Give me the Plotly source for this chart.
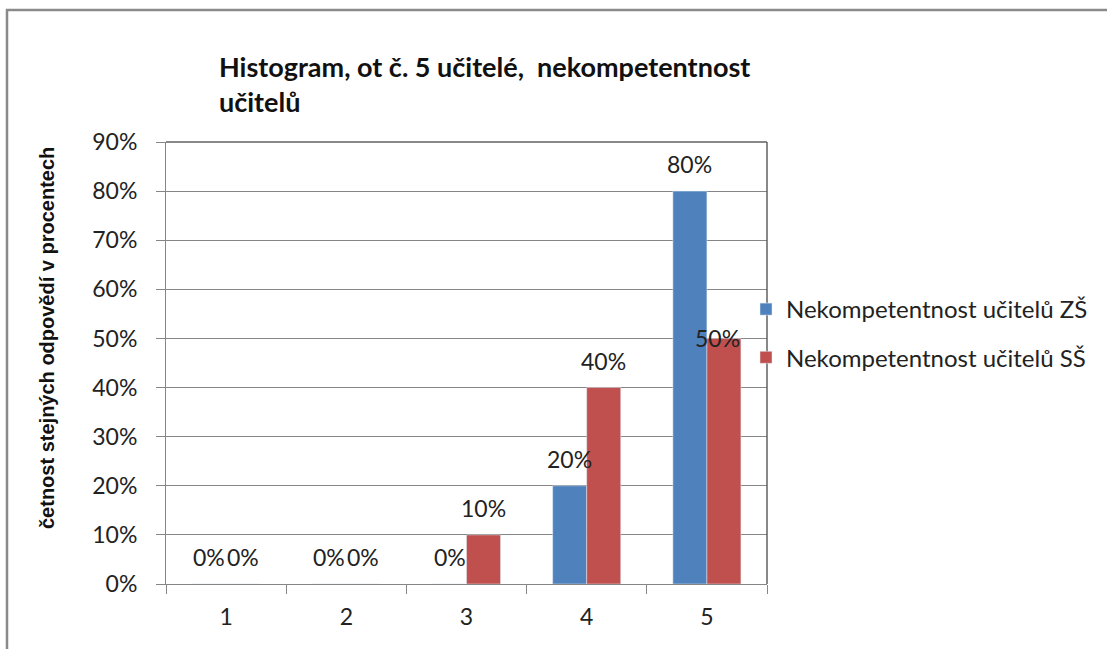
import plotly.graph_objects as go

categories = ["1", "2", "3", "4", "5"]
zs_values = [0.0, 0.0, 0.0, 0.2, 0.8]
ss_values = [0.0, 0.0, 0.1, 0.4, 0.5]
series_names = ["Nekompetentnost učitelů ZŠ", "Nekompetentnost učitelů SŠ"]
y_ticks = [0, 0.1, 0.2, 0.3, 0.4, 0.5, 0.6, 0.7, 0.8, 0.9]
title_text = "Histogram, ot č. 5 učitelé,  nekompetentnost<br>učitelů"
y_title = "četnost stejných odpovědí v procentech"

BLUE = "#4F81BD"
RED = "#C0504D"
FONT = "Lato"
W, H = 1107, 649
L, R, T, B = 166, 1107 - 767, 142, 649 - 584
pw, ph = W - L - R, H - T - B

fig = go.Figure()
fig.add_trace(go.Bar(x=categories, y=zs_values, name=series_names[0], marker_color=BLUE,
                     legendgroup="a"))
fig.add_trace(go.Bar(x=categories, y=ss_values, name=series_names[1], marker_color=RED,
                     legendgroup="b"))

# data labels
label_dy_zs = [27, 27, 27, 27, 27]
label_dy_ss = [27, 27, 27, 27, 0]
label_dx_ss = [0, 0, 0, 0, -6]
annotations = []
for i, c in enumerate(categories):
    annotations.append(dict(x=i, y=zs_values[i], xref="x", yref="y", text=f"{zs_values[i]*100:.0f}%",
                            showarrow=False, xshift=-17, yshift=label_dy_zs[i],
                            font=dict(family=FONT, size=23, color="#222"), yanchor="middle"))
    annotations.append(dict(x=i, y=ss_values[i], xref="x", yref="y", text=f"{ss_values[i]*100:.0f}%",
                            showarrow=False, xshift=17 + label_dx_ss[i], yshift=label_dy_ss[i],
                            font=dict(family=FONT, size=23, color="#222"), yanchor="middle"))

# y axis title
annotations.append(dict(x=(47 - L) / pw, y=(584 - 338) / ph, xref="paper", yref="paper",
                        text=f"<b>{y_title}</b>", textangle=-90, showarrow=False,
                        font=dict(family="Liberation Sans Narrow, Liberation Sans", size=20, color="#111"),
                        xanchor="center", yanchor="middle"))

# chart title as annotation (pixel-precise placement)
annotations.append(dict(x=(217 - L) / pw, y=(584 - 84) / ph, xref="paper", yref="paper",
                        text=f"<b>{title_text}</b>", showarrow=False, align="left",
                        xanchor="left", yanchor="middle",
                        font=dict(family=FONT, size=27, color="#111")))

shapes = [
    # outer frame
    dict(type="rect", xref="paper", yref="paper", x0=(7 - L) / pw, y0=-1, x1=3, y1=(584 - 10) / ph,
         line=dict(color="#8a8a8a", width=2.5), fillcolor="rgba(0,0,0,0)", layer="below"),
    # plot border top and right
    dict(type="line", xref="paper", yref="paper", x0=0, y0=1, x1=1, y1=1, line=dict(color="#606060", width=1.5)),
    dict(type="line", xref="paper", yref="paper", x0=1, y0=0, x1=1, y1=1, line=dict(color="#606060", width=1.5)),
]

fig.update_layout(
    width=W, height=H,
    margin=dict(l=L, r=R, t=T, b=B, autoexpand=False),
    paper_bgcolor="white", plot_bgcolor="white",
    barmode="group", bargap=0.434, bargroupgap=0,
    font=dict(family=FONT, size=23, color="#222"),
    legend=dict(x=(746 - L) / pw, y=(584 - 333.5) / ph, xanchor="left", yanchor="middle",
                font=dict(family=FONT, size=24, color="#222"), tracegroupgap=14,
                bgcolor="rgba(0,0,0,0)", itemwidth=30),
    annotations=annotations,
    shapes=shapes,
    showlegend=True,
)
fig.update_xaxes(type="category", showline=True, linecolor="#868686", linewidth=1,
                 ticks="outside", tickson="boundaries", ticklen=9, tickcolor="#868686",
                 showgrid=False, tickfont=dict(family=FONT, size=23, color="#222"),
                 ticklabelstandoff=12)
fig.update_yaxes(range=[0, 0.9], tickvals=y_ticks, tickformat=".0%", showline=True,
                 linecolor="#868686", linewidth=1, ticks="outside", ticklen=9, tickcolor="#868686",
                 showgrid=True, gridcolor="#868686", gridwidth=1, zeroline=False,
                 tickfont=dict(family=FONT, size=23, color="#222"), ticklabelstandoff=14)

fig.write_html("out.html", config={"displayModeBar": False},
               post_script="document.body.style.margin='0';document.body.style.overflow='hidden';")
